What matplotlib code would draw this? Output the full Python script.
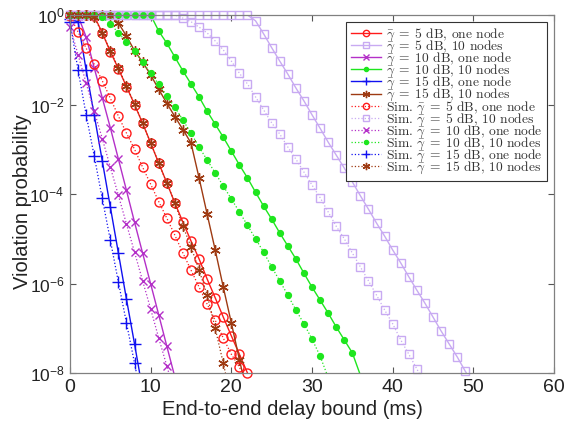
import numpy as np
import matplotlib
matplotlib.use('Agg')
import matplotlib.pyplot as plt
from matplotlib.lines import Line2D

plt.rcParams['font.family'] = ['Liberation Sans', 'DejaVu Sans']
plt.rcParams['mathtext.fontset'] = 'custom'
plt.rcParams['mathtext.rm'] = 'Liberation Sans'
plt.rcParams['mathtext.it'] = 'Liberation Sans:italic'

# delay bound (ms), one point per ms
delay = list(range(0, 51))

# log10 of violation probability (index = delay in ms)
# analytical curves
ana_5db_one = [0, 0, 0, -0.02, -0.4, -0.82, -1.2, -1.6, -2.0, -2.42, -2.86, -3.31,
               -3.75, -4.2, -4.63, -5.05, -5.45, -5.9, -6.32, -6.75, -7.17, -7.58, -8.0]
ana_5db_ten = [0, 0, 0, 0, 0, 0, 0, 0, 0, 0, 0, 0, 0, 0, 0, 0, 0, 0, 0, 0, 0, 0, 0,
               -0.13, -0.42, -0.73, -1.03, -1.32, -1.63, -1.92, -2.23, -2.53, -2.84,
               -3.13, -3.42, -3.73, -4.04, -4.34, -4.65, -4.94, -5.25, -5.54, -5.85,
               -6.15, -6.44, -6.75, -7.06, -7.35, -7.64, -7.96, -8.26]
ana_10db_one = [0, -0.02, -0.49, -1.18, -1.85, -2.52, -3.22, -3.92, -4.63, -5.32,
                -6.01, -6.70, -7.40, -8.09]
ana_10db_ten = [0, 0, 0, 0, 0, 0, 0, 0, 0, 0, 0,
                -0.36, -0.63, -0.94, -1.25, -1.54, -1.83, -2.15, -2.44, -2.73, -3.04,
                -3.35, -3.64, -3.96, -4.27, -4.56, -4.87, -5.16, -5.45, -5.77, -6.08,
                -6.37, -6.66, -6.97, -7.26, -7.55, -8.05]
ana_15db_one = [-0.1, -0.15, -1.23, -2.23, -3.26, -4.29, -5.32, -6.35, -7.35, -8.38]
ana_15db_ten = [0, 0, 0, 0, 0, 0, -0.18, -0.47, -0.8, -1.05, -1.34, -1.66, -1.97,
                -2.27, -2.56, -2.86, -3.64, -4.45, -5.25, -6.08, -6.88, -7.7, -8.5]

# simulation results
sim_5db_one = [-0.02, -0.38, -0.74, -1.1, -1.47, -1.86, -2.26, -2.64, -3.0, -3.4,
               -3.78, -4.17, -4.54, -4.92, -5.32, -5.70, -6.08, -6.46, -6.82, -7.22,
               -7.58, -7.87, -8.25]
sim_5db_ten = [0, 0, 0, 0, 0, 0, 0, 0, 0, 0, 0, 0, 0, 0,
               -0.07, -0.15, -0.27, -0.4, -0.58, -0.78, -1.03, -1.3, -1.54, -1.83,
               -2.12, -2.41, -2.66, -2.95, -3.22, -3.51, -3.8, -4.08, -4.4, -4.72,
               -5.0, -5.32, -5.63, -5.94, -6.26, -6.59, -6.9, -7.26, -7.58, -7.91, -8.25]
sim_10db_one = [-0.26, -0.89, -1.52, -2.15, -2.76, -3.4, -4.03, -4.67, -5.30, -5.94,
                -6.57, -7.22, -7.84, -8.47]
sim_10db_ten = [0, 0, 0, 0,
                -0.05, -0.2, -0.4, -0.6, -0.8, -1.05, -1.3, -1.55, -1.81, -2.06,
                -2.35, -2.64, -2.95, -3.24, -3.53, -3.82, -4.11, -4.4, -4.7, -5.0,
                -5.3, -5.63, -5.94, -6.26, -6.59, -6.9, -7.24, -7.62, -8.1]
sim_15db_one = [-0.15, -1.23, -2.23, -3.15, -4.1, -5.03, -5.97, -6.88, -7.78, -8.7]
sim_15db_ten = [0, 0, 0, -0.05, -0.4, -0.8, -1.18, -1.59, -1.99, -2.41, -2.86, -3.31,
                -3.75, -4.2, -4.72, -5.18, -5.7, -6.26, -7.0, -7.78, -8.6]

labels = [r'$\bar{\gamma}\;=\;5$ dB, one node',
          r'$\bar{\gamma}\;=\;5$ dB, 10 nodes',
          r'$\bar{\gamma}\;=\;10$ dB, one node',
          r'$\bar{\gamma}\;=\;10$ dB, 10 nodes',
          r'$\bar{\gamma}\;=\;15$ dB, one node',
          r'$\bar{\gamma}\;=\;15$ dB, 10 nodes']

red = '#ff1a1a'
lav = '#c8aaf2'
mag = '#b430c8'
grn = '#1ee61e'
blu = '#1010f0'
brn = '#9e3a12'
star = (6, 2, 0)

styles = [(red, 'o', 6.5, 'none'),
          (lav, 's', 5.5, 'none'),
          (mag, 'x', 5.5, mag),
          (grn, 'o', 4.2, grn),
          (blu, '+', 8.0, blu),
          (brn, star, 7.5, brn)]

ana = [ana_5db_one, ana_5db_ten, ana_10db_one, ana_10db_ten, ana_15db_one, ana_15db_ten]
sim = [sim_5db_one, sim_5db_ten, sim_10db_one, sim_10db_ten, sim_15db_one, sim_15db_ten]

fig = plt.figure(figsize=(5.73, 4.22), dpi=100)
ax = fig.add_axes([70 / 573, 1 - 373 / 422, 484 / 573, 358 / 422])

handles = []
all_labels = []


def draw(vals, style, ls, lw, label):
    col, mk, msz, mfc = style
    x = np.array(delay[:len(vals)])
    y = 10.0 ** np.array(vals)
    ax.plot(x, y, color=col, ls=ls, lw=lw)
    keep = np.array(vals) >= -8.02
    ax.plot(x[keep], y[keep], ls='none', marker=mk, ms=msz, mfc=mfc, mec=col,
            mew=1.0, clip_on=False)
    handles.append(Line2D([], [], color=col, ls=ls, lw=lw, marker=mk, ms=msz * 0.7,
                          mfc=mfc, mec=col, mew=1.0))
    all_labels.append(label)


for vals, st, lab in zip(ana, styles, labels):
    draw(vals, st, '-', 1.0, lab)
for vals, st, lab in zip(sim, styles, labels):
    draw(vals, st, ':', 0.9, 'Sim. ' + lab)

ax.set_yscale('log')
ax.set_xlim(0, 60)
ax.set_ylim(1e-8, 1)
ax.set_xticks([0, 10, 20, 30, 40, 50, 60])
ax.set_yticks([1e-8, 1e-6, 1e-4, 1e-2, 1])
ax.yaxis.set_minor_locator(matplotlib.ticker.NullLocator())
ax.tick_params(direction='in', top=True, right=True, length=4, width=0.8,
               color='#555555', labelcolor='#222222', pad=4)
ax.tick_params(axis='x', labelsize=14)
ax.tick_params(axis='y', labelsize=12.5)
for sp in ax.spines.values():
    sp.set_color('#808080')
    sp.set_linewidth(0.9)

ax.set_xlabel('End-to-end delay bound (ms)', fontsize=14.5, color='#222222')
ax.xaxis.set_label_coords((292 - 70) / 484, -0.075)
ax.set_ylabel('Violation probability', fontsize=14.5, color='#222222')
ax.yaxis.set_label_coords(-0.078, 0.48)

leg = ax.legend(handles, all_labels, loc='upper right', fontsize=9.7, fancybox=False,
                edgecolor='#333333', framealpha=1, labelspacing=-0.3, handlelength=2.2,
                handletextpad=0.4, borderpad=0.35, borderaxespad=0.5)
leg.get_frame().set_linewidth(0.8)
for t in leg.get_texts():
    t.set_fontfamily('cmr10')
    t.set_math_fontfamily('cm')
    t.set_color('#333333')

fig.savefig('out.png', dpi=100)
